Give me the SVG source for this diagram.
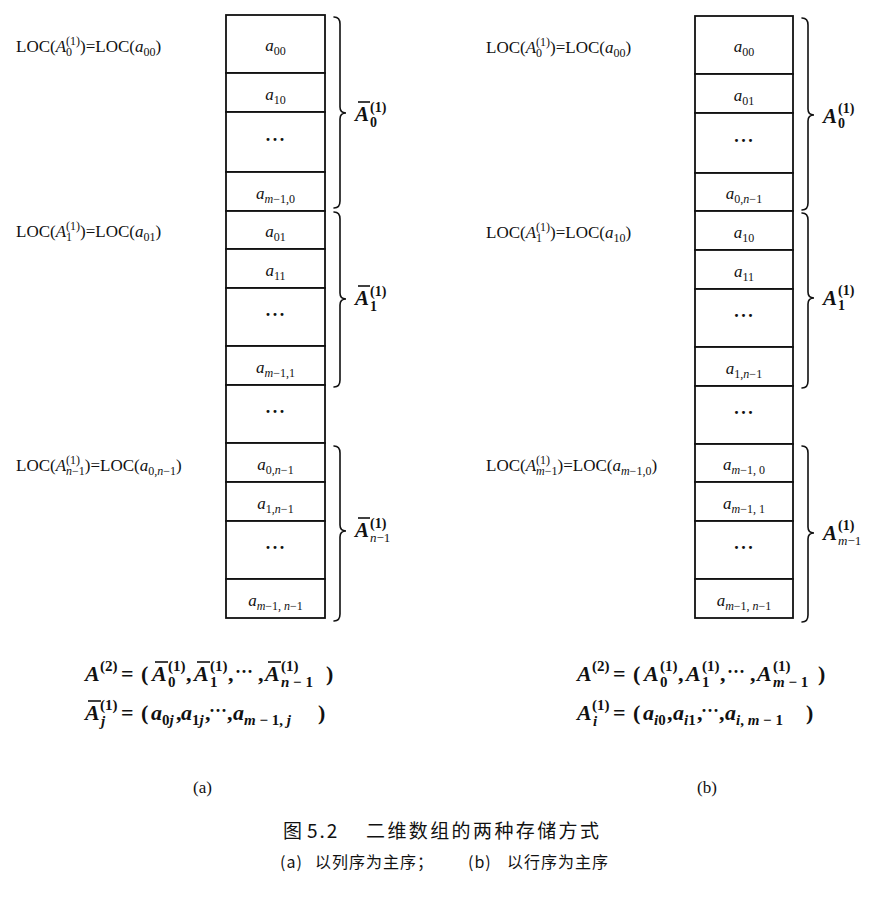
<svg xmlns="http://www.w3.org/2000/svg" width="886" height="902" viewBox="0 0 886 902">
  <style>
    .cell { fill: #fff; stroke: #111; stroke-width: 1.8; }
    .brace { fill: none; stroke: #111; stroke-width: 1.6; stroke-linecap: round; }
    .bar { stroke: #111; stroke-width: 1.6; }
    text { font-family: "Liberation Serif", "Times New Roman", serif; fill: #111; }
    .cl { font-size: 17px; text-anchor: middle; }
    .i { font-style: italic; }
    .sub { font-size: 12px; }
    .dots { font-size: 18px; font-weight: bold; text-anchor: middle; letter-spacing: 1px; }
    .loc { font-size: 17px; }
    .lab { font-size: 21px; font-weight: bold; font-style: italic; }
    .lsup { font-size: 14px; font-weight: bold; font-style: normal; }
    .lsubi { font-size: 13px; font-weight: normal; font-style: italic; }
    .f { font-size: 22px; font-weight: bold; font-style: italic; }
    .fu { font-size: 22px; font-weight: bold; font-style: normal; }
    .fs { font-size: 15px; font-weight: bold; font-style: normal; }
    .fsi { font-size: 15px; font-weight: bold; font-style: italic; }
    .fd { font-size: 18px; font-weight: bold; font-style: normal; }
    .tag { font-size: 17px; }
    .cap { font-family: "Noto Sans CJK SC", "Noto Sans", sans-serif; }
  </style>

  <rect x="0" y="0" width="886" height="902" fill="#fff"/>

  <!-- (a) column-major storage -->
  <g id="colA">
    <g id="a-r0"><rect class="cell" x="226" y="15" width="99" height="58"/><text class="cl" x="275.5" y="51"><tspan class="i">a</tspan><tspan class="sub" dy="4">00</tspan></text></g>
    <g id="a-r1"><rect class="cell" x="226" y="73" width="99" height="39"/><text class="cl" x="275.5" y="99.5"><tspan class="i">a</tspan><tspan class="sub" dy="4">10</tspan></text></g>
    <g id="a-r2"><rect class="cell" x="226" y="112" width="99" height="60"/><text class="dots" x="275.5" y="146">···</text></g>
    <g id="a-r3"><rect class="cell" x="226" y="172" width="99" height="39"/><text class="cl" x="275.5" y="198.5"><tspan class="i">a</tspan><tspan class="sub" dy="4"><tspan class="i">m</tspan>−1,0</tspan></text></g>
    <g id="a-r4"><rect class="cell" x="226" y="211" width="99" height="38"/><text class="cl" x="275.5" y="237"><tspan class="i">a</tspan><tspan class="sub" dy="4">01</tspan></text></g>
    <g id="a-r5"><rect class="cell" x="226" y="249" width="99" height="39"/><text class="cl" x="275.5" y="275.5"><tspan class="i">a</tspan><tspan class="sub" dy="4">11</tspan></text></g>
    <g id="a-r6"><rect class="cell" x="226" y="288" width="99" height="58"/><text class="dots" x="275.5" y="321">···</text></g>
    <g id="a-r7"><rect class="cell" x="226" y="346" width="99" height="39"/><text class="cl" x="275.5" y="372.5"><tspan class="i">a</tspan><tspan class="sub" dy="4"><tspan class="i">m</tspan>−1,1</tspan></text></g>
    <g id="a-r8"><rect class="cell" x="226" y="385" width="99" height="58"/><text class="dots" x="275.5" y="418">···</text></g>
    <g id="a-r9"><rect class="cell" x="226" y="443" width="99" height="39"/><text class="cl" x="275.5" y="469.5"><tspan class="i">a</tspan><tspan class="sub" dy="4">0,<tspan class="i">n</tspan>−1</tspan></text></g>
    <g id="a-r10"><rect class="cell" x="226" y="482" width="99" height="39"/><text class="cl" x="275.5" y="508.5"><tspan class="i">a</tspan><tspan class="sub" dy="4">1,<tspan class="i">n</tspan>−1</tspan></text></g>
    <g id="a-r11"><rect class="cell" x="226" y="521" width="99" height="58"/><text class="dots" x="275.5" y="554">···</text></g>
    <g id="a-r12"><rect class="cell" x="226" y="579" width="99" height="39"/><text class="cl" x="275.5" y="605.5"><tspan class="i">a</tspan><tspan class="sub" dy="4"><tspan class="i">m</tspan>−1, <tspan class="i">n</tspan>−1</tspan></text></g>
  </g>

  <!-- (b) row-major storage -->
  <g id="colB">
    <g id="b-r0"><rect class="cell" x="695" y="16" width="98" height="58"/><text class="cl" x="744" y="52"><tspan class="i">a</tspan><tspan class="sub" dy="4">00</tspan></text></g>
    <g id="b-r1"><rect class="cell" x="695" y="74" width="98" height="39"/><text class="cl" x="744" y="100.5"><tspan class="i">a</tspan><tspan class="sub" dy="4">01</tspan></text></g>
    <g id="b-r2"><rect class="cell" x="695" y="113" width="98" height="60"/><text class="dots" x="744" y="147">···</text></g>
    <g id="b-r3"><rect class="cell" x="695" y="173" width="98" height="38"/><text class="cl" x="744" y="199"><tspan class="i">a</tspan><tspan class="sub" dy="4">0,<tspan class="i">n</tspan>−1</tspan></text></g>
    <g id="b-r4"><rect class="cell" x="695" y="211" width="98" height="39"/><text class="cl" x="744" y="237.5"><tspan class="i">a</tspan><tspan class="sub" dy="4">10</tspan></text></g>
    <g id="b-r5"><rect class="cell" x="695" y="250" width="98" height="39"/><text class="cl" x="744" y="276.5"><tspan class="i">a</tspan><tspan class="sub" dy="4">11</tspan></text></g>
    <g id="b-r6"><rect class="cell" x="695" y="289" width="98" height="58"/><text class="dots" x="744" y="322">···</text></g>
    <g id="b-r7"><rect class="cell" x="695" y="347" width="98" height="39"/><text class="cl" x="744" y="373.5"><tspan class="i">a</tspan><tspan class="sub" dy="4">1,<tspan class="i">n</tspan>−1</tspan></text></g>
    <g id="b-r8"><rect class="cell" x="695" y="386" width="98" height="58"/><text class="dots" x="744" y="419">···</text></g>
    <g id="b-r9"><rect class="cell" x="695" y="444" width="98" height="38"/><text class="cl" x="744" y="470"><tspan class="i">a</tspan><tspan class="sub" dy="4"><tspan class="i">m</tspan>−1, 0</tspan></text></g>
    <g id="b-r10"><rect class="cell" x="695" y="482" width="98" height="39"/><text class="cl" x="744" y="508.5"><tspan class="i">a</tspan><tspan class="sub" dy="4"><tspan class="i">m</tspan>−1, 1</tspan></text></g>
    <g id="b-r11"><rect class="cell" x="695" y="521" width="98" height="58"/><text class="dots" x="744" y="554">···</text></g>
    <g id="b-r12"><rect class="cell" x="695" y="579" width="98" height="39"/><text class="cl" x="744" y="605.5"><tspan class="i">a</tspan><tspan class="sub" dy="4"><tspan class="i">m</tspan>−1, <tspan class="i">n</tspan>−1</tspan></text></g>
  </g>

  <!-- braces grouping each one-dimensional sub-array -->
  <g id="braces">
    <path class="brace" d="M334,17 Q340,17 340,24 L340,107 Q340,113 346,113 Q340,113 340,119 L340,201 Q340,208 334,208"/>
    <path class="brace" d="M334,212 Q340,212 340,219 L340,293 Q340,299 346,299 Q340,299 340,305 L340,380 Q340,387 334,387"/>
    <path class="brace" d="M334,446 Q340,446 340,453 L340,525 Q340,531 346,531 Q340,531 340,537 L340,614 Q340,621 334,621"/>
    <path class="brace" d="M802,18 Q808,18 808,25 L808,109 Q808,115 814,115 Q808,115 808,121 L808,203 Q808,210 802,210"/>
    <path class="brace" d="M802,213 Q808,213 808,220 L808,292 Q808,298 814,298 Q808,298 808,304 L808,381 Q808,388 802,388"/>
    <path class="brace" d="M802,446 Q808,446 808,453 L808,527 Q808,533 814,533 Q808,533 808,539 L808,615 Q808,622 802,622"/>
  </g>

  <!-- sub-array names -->
  <g id="braceLabels">
    <g id="lab-a0"><line class="bar" x1="358" y1="102" x2="370" y2="102"/><text class="lab" x="355" y="121">A</text><text class="lsup" x="370" y="112">(1)</text><text class="lsup" x="370" y="127">0</text></g>
    <g id="lab-a1"><line class="bar" x1="358" y1="286" x2="370" y2="286"/><text class="lab" x="355" y="305">A</text><text class="lsup" x="370" y="296">(1)</text><text class="lsup" x="370" y="311">1</text></g>
    <g id="lab-a2"><line class="bar" x1="358" y1="518" x2="370" y2="518"/><text class="lab" x="355" y="537">A</text><text class="lsup" x="370" y="528">(1)</text><text class="lsubi" x="370" y="542">n<tspan font-style="normal">−1</tspan></text></g>
    <g id="lab-b0"><text class="lab" x="823" y="123">A</text><text class="lsup" x="838" y="113">(1)</text><text class="lsup" x="838" y="128">0</text></g>
    <g id="lab-b1"><text class="lab" x="823" y="305">A</text><text class="lsup" x="838" y="295">(1)</text><text class="lsup" x="838" y="310">1</text></g>
    <g id="lab-b2"><text class="lab" x="823" y="540">A</text><text class="lsup" x="838" y="530">(1)</text><text class="lsubi" x="838" y="545">m<tspan font-style="normal">−1</tspan></text></g>
  </g>

  <!-- start addresses -->
  <g id="locLabels">
    <text class="loc" x="16" y="52">LOC(<tspan class="i">A</tspan><tspan class="sub" dy="-7">(1)</tspan><tspan class="sub" dx="-14" dy="11">0</tspan><tspan dx="8" dy="-4">)=LOC(</tspan><tspan class="i">a</tspan><tspan class="sub" dy="4">00</tspan><tspan dy="-4">)</tspan></text>
    <text class="loc" x="16" y="237">LOC(<tspan class="i">A</tspan><tspan class="sub" dy="-7">(1)</tspan><tspan class="sub" dx="-14" dy="11">1</tspan><tspan dx="8" dy="-4">)=LOC(</tspan><tspan class="i">a</tspan><tspan class="sub" dy="4">01</tspan><tspan dy="-4">)</tspan></text>
    <text class="loc" x="16" y="471">LOC(<tspan class="i">A</tspan><tspan class="sub" dy="-7">(1)</tspan><tspan class="sub" dx="-14" dy="11"><tspan class="i">n</tspan>−1</tspan><tspan dy="-4">)=LOC(</tspan><tspan class="i">a</tspan><tspan class="sub" dy="4">0,<tspan class="i">n</tspan>−1</tspan><tspan dy="-4">)</tspan></text>
    <text class="loc" x="486" y="53">LOC(<tspan class="i">A</tspan><tspan class="sub" dy="-7">(1)</tspan><tspan class="sub" dx="-14" dy="11">0</tspan><tspan dx="8" dy="-4">)=LOC(</tspan><tspan class="i">a</tspan><tspan class="sub" dy="4">00</tspan><tspan dy="-4">)</tspan></text>
    <text class="loc" x="486" y="238">LOC(<tspan class="i">A</tspan><tspan class="sub" dy="-7">(1)</tspan><tspan class="sub" dx="-14" dy="11">1</tspan><tspan dx="8" dy="-4">)=LOC(</tspan><tspan class="i">a</tspan><tspan class="sub" dy="4">10</tspan><tspan dy="-4">)</tspan></text>
    <text class="loc" x="486" y="471">LOC(<tspan class="i">A</tspan><tspan class="sub" dy="-7">(1)</tspan><tspan class="sub" dx="-14" dy="11"><tspan class="i">m</tspan>−1</tspan><tspan dy="-4">)=LOC(</tspan><tspan class="i">a</tspan><tspan class="sub" dy="4"><tspan class="i">m</tspan>−1,0</tspan><tspan dy="-4">)</tspan></text>
  </g>

  <!-- formulas (a) -->
  <g id="formulaA">
    <text class="f" x="85" y="681">A</text><text class="fs" x="100" y="671">(2)</text><text class="fu" x="121" y="681">=</text><text class="fu" x="141" y="681">(</text>
    <line class="bar" x1="155" y1="662" x2="168" y2="662"/><text class="f" x="152" y="681">A</text><text class="fs" x="168" y="671">(1)</text><text class="fs" x="168" y="687">0</text><text class="fu" x="186" y="681">,</text>
    <line class="bar" x1="197" y1="662" x2="210" y2="662"/><text class="f" x="194" y="681">A</text><text class="fs" x="210" y="671">(1)</text><text class="fs" x="210" y="687">1</text><text class="fu" x="228" y="681">,</text>
    <text class="fd" x="235" y="678">···</text><text class="fu" x="258" y="681">,</text>
    <line class="bar" x1="268" y1="662" x2="281" y2="662"/><text class="f" x="265" y="681">A</text><text class="fs" x="281" y="671">(1)</text><text class="fsi" x="281" y="687">n<tspan font-style="normal"> − 1</tspan></text><text class="fu" x="326" y="681">)</text>

    <line class="bar" x1="88" y1="701" x2="101" y2="701"/><text class="f" x="85" y="720">A</text><text class="fs" x="100" y="710">(1)</text><text class="fsi" x="101" y="726">j</text><text class="fu" x="121" y="720">=</text><text class="fu" x="141" y="720">(</text>
    <text class="f" x="151" y="720">a</text><text class="fs" x="162" y="725">0<tspan font-style="italic">j</tspan></text><text class="fu" x="176" y="720">,</text>
    <text class="f" x="181" y="720">a</text><text class="fs" x="192" y="725">1<tspan font-style="italic">j</tspan></text><text class="fu" x="205" y="720">,</text>
    <text class="fd" x="209" y="717">···</text><text class="fu" x="227" y="720">,</text>
    <text class="f" x="233" y="720">a</text><text class="fsi" x="244" y="725">m<tspan font-style="normal"> − 1, </tspan>j</text><text class="fu" x="318" y="720">)</text>
  </g>

  <!-- formulas (b) -->
  <g id="formulaB">
    <text class="f" x="577" y="681">A</text><text class="fs" x="592" y="671">(2)</text><text class="fu" x="613" y="681">=</text><text class="fu" x="633" y="681">(</text>
    <text class="f" x="644" y="681">A</text><text class="fs" x="660" y="671">(1)</text><text class="fs" x="660" y="687">0</text><text class="fu" x="678" y="681">,</text>
    <text class="f" x="686" y="681">A</text><text class="fs" x="702" y="671">(1)</text><text class="fs" x="702" y="687">1</text><text class="fu" x="720" y="681">,</text>
    <text class="fd" x="727" y="678">···</text><text class="fu" x="750" y="681">,</text>
    <text class="f" x="757" y="681">A</text><text class="fs" x="773" y="671">(1)</text><text class="fsi" x="773" y="687">m<tspan font-style="normal"> − 1</tspan></text><text class="fu" x="818" y="681">)</text>

    <text class="f" x="577" y="720">A</text><text class="fs" x="592" y="710">(1)</text><text class="fsi" x="593" y="726">i</text><text class="fu" x="613" y="720">=</text><text class="fu" x="633" y="720">(</text>
    <text class="f" x="643" y="720">a</text><text class="fsi" x="654" y="725">i<tspan font-style="normal">0</tspan></text><text class="fu" x="667" y="720">,</text>
    <text class="f" x="673" y="720">a</text><text class="fsi" x="684" y="725">i<tspan font-style="normal">1</tspan></text><text class="fu" x="697" y="720">,</text>
    <text class="fd" x="701" y="717">···</text><text class="fu" x="719" y="720">,</text>
    <text class="f" x="725" y="720">a</text><text class="fsi" x="736" y="725">i<tspan font-style="normal">, </tspan>m<tspan font-style="normal"> − 1</tspan></text><text class="fu" x="806" y="720">)</text>
  </g>

  <!-- sub-figure tags -->
  <text class="tag" x="193" y="793">(a)</text>
  <text class="tag" x="697" y="793">(b)</text>

  <!-- caption -->
  <g id="caption" class="cap">
    <text class="cap" x="283" y="838" font-size="19">图</text>
    <text class="cap" x="307" y="838" font-size="19" letter-spacing="2">5.2</text>
    <text class="cap" x="366" y="838" font-size="19" letter-spacing="2.4">二维数组的两种存储方式</text>
    <text class="cap" x="280" y="868" font-size="16" letter-spacing="1">(a)</text>
    <text class="cap" x="315" y="868" font-size="16" letter-spacing="1">以列序为主序；</text>
    <text class="cap" x="468" y="868" font-size="16" letter-spacing="1">(b)</text>
    <text class="cap" x="507" y="868" font-size="16" letter-spacing="1">以行序为主序</text>
  </g>
</svg>
